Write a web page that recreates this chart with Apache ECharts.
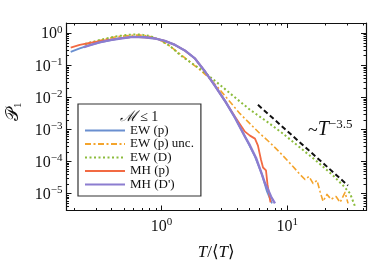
<!DOCTYPE html>
<html><head><meta charset="utf-8">
<script src="https://cdn.jsdelivr.net/npm/echarts@6/dist/echarts.min.js"></script>
<style>html,body{margin:0;padding:0;background:#fff}#c{width:374px;height:267px}</style>
</head><body><div id="c"></div>
<script>
// ---------- data ----------
const ewpX = [0.189,0.223,0.268,0.322,0.387,0.465,0.590,0.736,0.884,1.06,1.28,1.53,1.84,2.21,2.66,3.19,3.84,4.61,5.54,6.30,6.90,7.57];
const ewpY = [0.263,0.337,0.424,0.518,0.606,0.690,0.768,0.751,0.690,0.577,0.433,0.292,0.165,0.0651,0.0231,0.0079,0.00234,0.000602,0.000144,3.98e-5,1.18e-5,5.0e-6];

const ewpUncX = [0.245,0.322,0.425,0.559,0.672,0.807,0.969,1.165,1.40,1.68,2.02,2.43,2.91,3.50,4.21,5.05,6.07,7.29,8.76,11.12,12.65,13.87,14.92,16.06,17.28,18.25,19.29,20.75,22.34,24.48,26.35,28.88,30.51];
const ewpUncY = [0.449,0.598,0.768,0.854,0.886,0.796,0.619,0.403,0.228,0.128,0.0725,0.0381,0.01734,0.00735,0.00312,0.001525,0.000746,0.000392,0.000192,7.05e-5,3.98e-5,2.78e-5,3.45e-5,2.09e-5,2.59e-5,1.18e-5,5.8e-6,9.5e-6,6.7e-6,8.2e-6,5.4e-6,1.1e-5,5.0e-6];

const ewdX = [0.245,0.322,0.425,0.559,0.672,0.807,0.969,1.165,1.40,1.68,2.02,2.43,2.91,3.70,5.05,6.90,9.26,12.65,17.28,23.17,27.84,31.65,34.69];
const ewdY = [0.465,0.619,0.795,0.905,0.918,0.824,0.619,0.403,0.212,0.128,0.0778,0.0439,0.0248,0.0113,0.00415,0.00176,0.000746,0.000274,0.000101,3.7e-5,1.81e-5,1.02e-5,4.0e-6];

const mhpX = [0.189,0.223,0.268,0.322,0.387,0.465,0.590,0.736,0.884,1.06,1.28,1.53,1.84,2.21,2.66,3.19,3.84,4.61,5.05,5.54,5.85,6.18,6.42,6.78,6.97,7.16,7.36];
const mhpY = [0.357,0.433,0.500,0.564,0.628,0.690,0.768,0.751,0.690,0.577,0.433,0.292,0.165,0.0651,0.0231,0.0079,0.00252,0.000861,0.000647,0.000521,0.000316,0.000116,6.56e-5,5.30e-5,1.95e-5,1.02e-5,5.4e-6];

const mhdX = [0.24,0.27,0.32,0.39,0.47,0.59,0.74,0.88,1.06,1.28,1.53,1.84,2.21,2.66,3.19,3.84,4.61,5.05,5.64,6.18,6.66,7.03,7.43,7.99];
const mhdY = [0.37,0.43,0.52,0.61,0.69,0.77,0.75,0.69,0.577,0.433,0.292,0.165,0.0651,0.0231,0.0079,0.00234,0.00060,0.00032,0.000133,4.9e-5,2.1e-5,1.35e-5,8.2e-6,5.0e-6];

const guideX = [5.85, 30.5];
const guideY = [0.0059, 1.8e-5];

const seriesNames = ['EW (p)', 'EW (p) unc.', 'EW (D)', 'MH (p)', "MH (D')"];

const xMajorTicks = [1, 10];
const xMinorTicks = [0.2,0.3,0.4,0.5,0.6,0.7,0.8,0.9,2,3,4,5,6,7,8,9,20,30,40];
const yMajorTicks = [1e-5,1e-4,1e-3,1e-2,1e-1,1];
const yMinorMultipliers = [2,3,4,5,6,7,8,9];
const yDecades = [-6,-5,-4,-3,-2,-1,0];
const xRange = [0.175, 42.4];
const yRange = [3.0e-6, 2.09];

// ---------- chart ----------
const SERIF = '"Liberation Serif", "DejaVu Serif", serif';
const lg = Math.log10;
const zip = (xs, ys) => xs.map((x, i) => [x, ys[i]]);

const yMinorTicks = [];
yDecades.forEach(d => yMinorMultipliers.forEach(k => {
  const v = k * Math.pow(10, d);
  if (v >= yRange[0] && v <= yRange[1]) yMinorTicks.push(v);
}));

function supLabel(v) {
  const e = Math.round(v);
  return '{b|10}{e|' + (e < 0 ? '\u2212' + (-e) : e) + '}';
}
const labelRich = {
  b: { fontFamily: SERIF, fontSize: 16, color: '#111', verticalAlign: 'bottom', lineHeight: 18 },
  e: { fontFamily: SERIF, fontSize: 11, color: '#111', verticalAlign: 'top', lineHeight: 12 }
};

function deco(range, position, ticks, len, withLine, withLabel, margin, extra) {
  const vals = ticks.map(lg);
  return Object.assign({
    type: 'value', min: lg(range[0]), max: lg(range[1]), position: position,
    axisLine: { show: withLine, onZero: false, lineStyle: { color: '#111', width: 1.2 } },
    axisTick: { show: true, inside: true, length: len, customValues: vals, lineStyle: { color: '#111', width: 1 } },
    axisLabel: { show: withLabel, customValues: vals, formatter: supLabel, rich: labelRich, margin: margin },
    splitLine: { show: false }, silent: true
  }, extra || {});
}

const dataX = { type: 'log', logBase: 10, min: xRange[0], max: xRange[1], show: false };
const dataY = { type: 'log', logBase: 10, min: yRange[0], max: yRange[1], show: false };

const xAxes = [
  dataX,
  deco(xRange, 'bottom', xMajorTicks, 5, true, true, 6, {
    name: '{i|T}/\u27E8{i|T}\u27E9', nameLocation: 'middle', nameGap: 34,
    nameTextStyle: { fontFamily: SERIF, fontSize: 17, color: '#111', rich: { i: { fontFamily: SERIF, fontStyle: 'italic', fontSize: 17, color: '#111' } } }
  }),
  deco(xRange, 'bottom', xMinorTicks, 2.5, false, false, 6),
  deco(xRange, 'top', xMajorTicks, 5, true, false, 6),
  deco(xRange, 'top', xMinorTicks, 2.5, false, false, 6)
];
const yAxes = [
  dataY,
  deco(yRange, 'left', yMajorTicks, 5, true, true, 4, {
    name: '{p|\uD835\uDCAB}{s|1}', nameLocation: 'middle', nameGap: 40, nameRotate: 90,
    nameTextStyle: { fontFamily: SERIF, color: '#111', padding: [0, 0, 0, 10],
      rich: { p: { fontFamily: SERIF, fontSize: 18, color: '#111', verticalAlign: 'top', lineHeight: 20 },
              s: { fontFamily: SERIF, fontSize: 11, color: '#111', verticalAlign: 'bottom', lineHeight: 20 } } }
  }),
  deco(yRange, 'left', yMinorTicks, 2.5, false, false, 4),
  deco(yRange, 'right', yMajorTicks, 5, true, false, 4),
  deco(yRange, 'right', yMinorTicks, 2.5, false, false, 4)
];

function lineSeries(name, xs, ys, color, width, type, z) {
  return {
    name: name, type: 'line', xAxisIndex: 0, yAxisIndex: 0, data: zip(xs, ys),
    symbol: 'none', showSymbol: false, smooth: false, z: z,
    lineStyle: { color: color, width: width, type: type, cap: 'butt', join: 'round' },
    itemStyle: { color: color }, animation: false, silent: true
  };
}

const option = {
  animation: false,
  backgroundColor: '#fff',
  grid: { left: 66.5, right: 8, top: 23, bottom: 56.5, containLabel: false, outerBoundsMode: 'none' },
  xAxis: xAxes,
  yAxis: yAxes,
  legend: {
    data: seriesNames, orient: 'vertical', left: 78, top: 104,
    padding: [20, 7, 5, 6], itemWidth: 40, itemHeight: 10, itemGap: 0.5,
    borderColor: '#333', borderWidth: 1.2, borderRadius: 0, backgroundColor: '#fff',
    itemStyle: { opacity: 0 },
    textStyle: { fontFamily: SERIF, fontSize: 13, color: '#111', lineHeight: 13 },
    selectedMode: false
  },
  series: [
    lineSeries(seriesNames[0], ewpX, ewpY, '#6a8fd0', 1.8, 'solid', 2),
    lineSeries(seriesNames[1], ewpUncX, ewpUncY, '#f4a42c', 1.6, [6, 2.5, 2, 2.5], 3),
    lineSeries(seriesNames[2], ewdX, ewdY, '#8cbc3c', 2, [2, 2.5], 4),
    lineSeries(seriesNames[3], mhpX, mhpY, '#f26a43', 1.8, 'solid', 5),
    lineSeries(seriesNames[4], mhdX, mhdY, '#8c7dd0', 2.4, 'solid', 6),
    lineSeries('guide', guideX, guideY, '#111', 2, [5, 3], 7)
  ],
  graphic: [
    { type: 'text', z: 100, style: { text: '{m|\u2133} \u2264 1', x: 139, y: 117.5, align: 'center', verticalAlign: 'middle',
        font: '14px ' + SERIF, fill: '#111',
        rich: { m: { fontFamily: SERIF, fontStyle: 'italic', fontSize: 15, fill: '#111' } } } },
    { type: 'text', z: 100, style: { text: '{a|~}{t|T}{e|\u22123.5}', x: 308, y: 129, align: 'left', verticalAlign: 'middle',
        fill: '#111',
        rich: { a: { fontFamily: SERIF, fontSize: 18, fill: '#111', verticalAlign: 'bottom', lineHeight: 22 },
                t: { fontFamily: SERIF, fontStyle: 'italic', fontSize: 20, fill: '#111', verticalAlign: 'bottom', lineHeight: 22 },
                e: { fontFamily: SERIF, fontSize: 13, fill: '#111', verticalAlign: 'top', lineHeight: 14 } } } }
  ]
};

const chart = echarts.init(document.getElementById('c'), null, { renderer: 'canvas' });
chart.setOption(option);
</script></body></html>
